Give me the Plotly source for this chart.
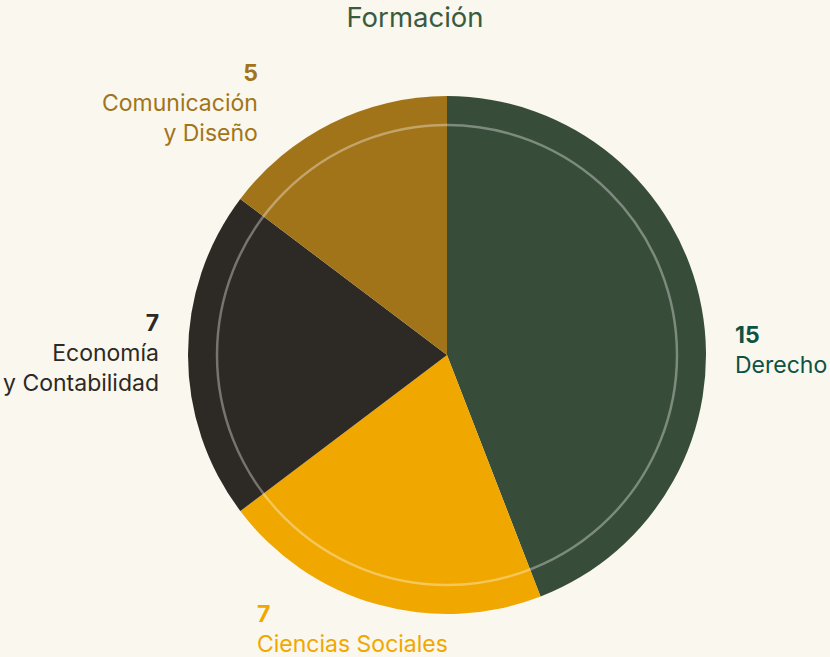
import plotly.graph_objects as go

categories = ["Derecho", "Ciencias Sociales", "Economía<br>y Contabilidad", "Comunicación<br>y Diseño"]
values = [15, 7, 7, 5]
slice_colors = ["#374d39", "#f0a800", "#2d2924", "#a2741a"]
label_colors = ["#0f5243", "#f0a800", "#2d2924", "#a2741a"]
title_text = "Formación"

W, H = 830, 657
ml, mr, mt, mb = 188, 124, 96, 43
side = W - ml - mr  # 518

fig = go.Figure(go.Pie(
    labels=categories,
    values=values,
    sort=False,
    direction="clockwise",
    rotation=0,
    marker=dict(colors=slice_colors, line=dict(width=0)),
    textinfo="none",
    hoverinfo="label+value",
    showlegend=False,
))

# label anchor points in pixel space (x, y, xanchor)
label_pos = [
    (733, 350, "left"),
    (255, 629, "left"),
    (161, 353, "right"),
    (260, 103, "right"),
]

annotations = []
for cat, val, col, (px, py, xa) in zip(categories, values, label_colors, label_pos):
    annotations.append(dict(
        x=(px - ml) / side, y=(H - mb - py) / side,
        xref="paper", yref="paper",
        text=f"<b>{val}</b><br>{cat}",
        showarrow=False, xanchor=xa, yanchor="middle", align=xa,
        font=dict(family="Inter, sans-serif", size=23, color=col),
    ))

ring_r = 0.5 * 230 / 259
fig.update_layout(
    width=W, height=H,
    margin=dict(l=ml, r=mr, t=mt, b=mb),
    paper_bgcolor="#f9f7ee",
    plot_bgcolor="#f9f7ee",
    title=dict(text=title_text, x=0.5, xref="container", y=1 - 17 / H, yanchor="middle",
               font=dict(family="Inter, sans-serif", size=27.5, color="#3a5a40")),
    annotations=annotations,
    shapes=[dict(type="circle", xref="paper", yref="paper",
                 x0=0.5 - ring_r, x1=0.5 + ring_r, y0=0.5 - ring_r, y1=0.5 + ring_r,
                 line=dict(color="rgba(255,255,255,0.35)", width=2.5), layer="above")],
)

fig.write_html("out.html", config={"displayModeBar": False},
               post_script="document.body.style.margin='0';document.body.style.background='#f9f7ee';")
